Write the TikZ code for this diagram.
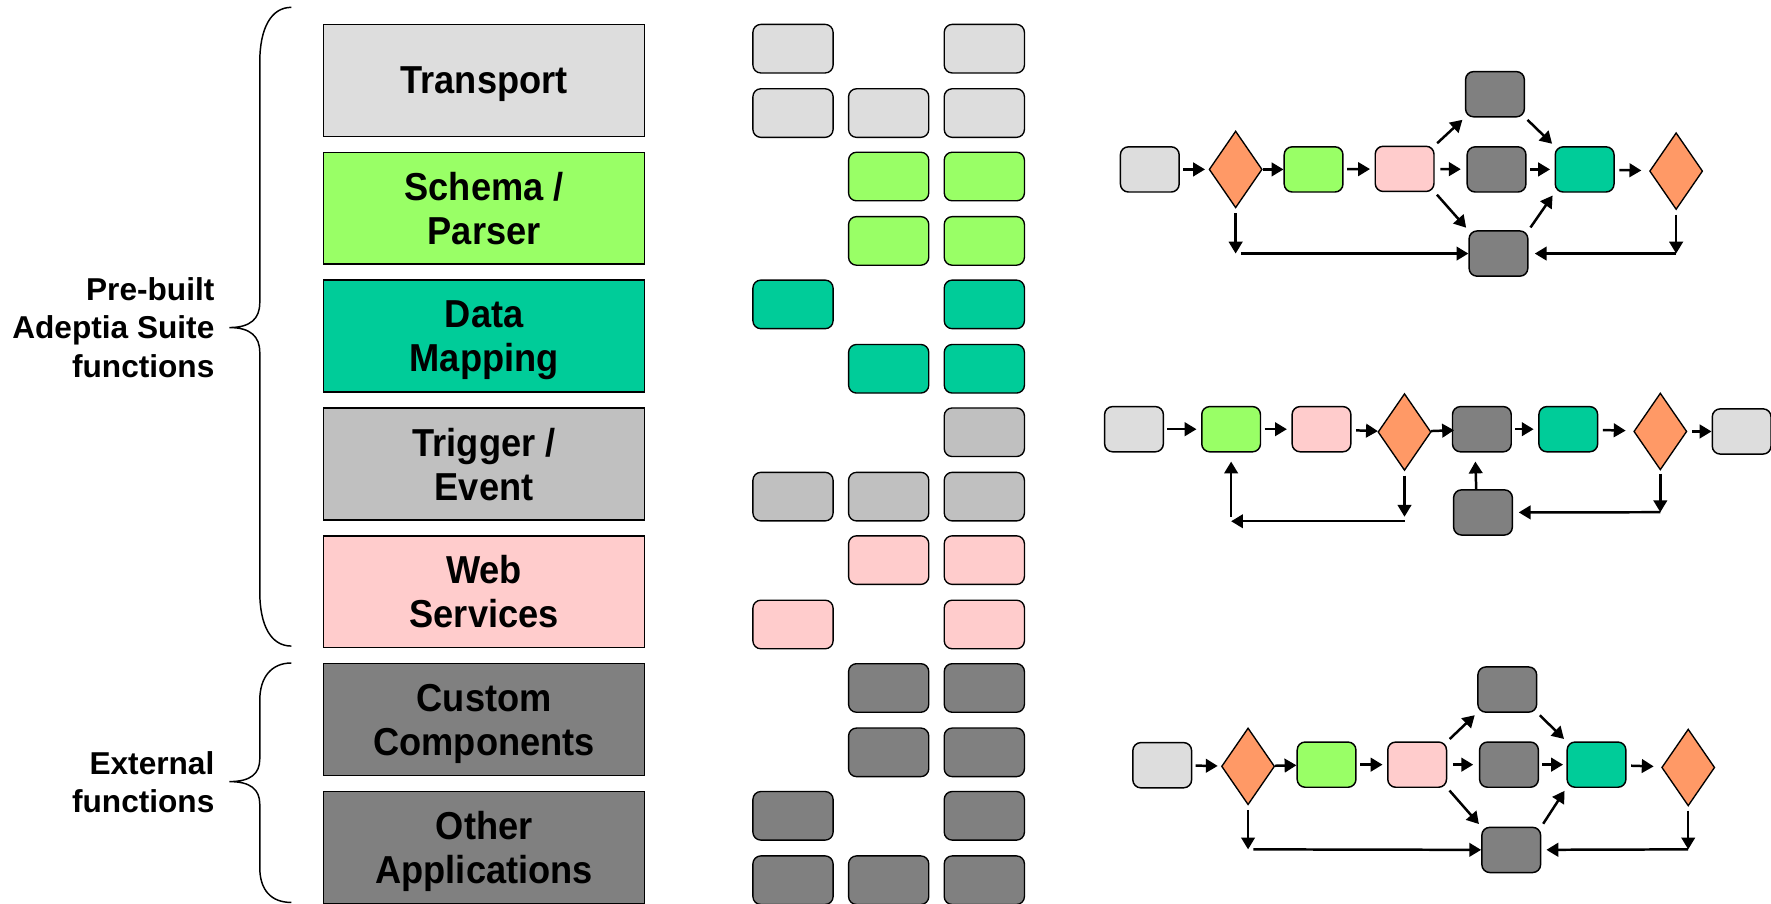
\documentclass[tikz,border=0pt]{standalone}
\usepackage{fontspec}
\setmainfont{Liberation Sans}
\newfontfamily\boxfont{Liberation Sans}[FakeStretch=0.93]
\usetikzlibrary{shapes.geometric,arrows.meta}
\definecolor{cLight}{HTML}{DDDDDD}
\definecolor{cGreen}{HTML}{99FF66}
\definecolor{cTeal}{HTML}{00CC99}
\definecolor{cTrig}{HTML}{C0C0C0}
\definecolor{cPink}{HTML}{FFCCCC}
\definecolor{cDark}{HTML}{808080}
\definecolor{cOr}{HTML}{FF9966}
\begin{document}
\begin{tikzpicture}[x=1pt,y=-1pt,
  big/.style={draw, line width=1.3pt, minimum width=284pt, minimum height=99pt, inner sep=0pt, align=center, anchor=north west, text depth=0pt, font=\boxfont\bfseries\fontsize{34.5}{39}\selectfont},
  cell/.style={draw, line width=1.2pt, rounded corners=7pt, minimum width=71pt, minimum height=43pt, inner sep=0pt, anchor=north west},
  fbox/.style={draw, line width=1.3pt, rounded corners=7pt, minimum width=52pt, minimum height=40pt, inner sep=0pt},
  dia/.style={draw, shape=diamond, line width=1.2pt, fill=cOr, minimum width=47pt, minimum height=68pt, inner sep=0pt},
  arr/.style={line width=2.2pt, -{Triangle[length=10.5pt,width=12pt]}, shorten >=3pt, shorten <=3pt},
  lbl/.style={align=right, anchor=east, inner sep=0pt, font=\bfseries\fontsize{28}{34}\selectfont},
  bracepath/.style={line width=1.3pt}
]
\useasboundingbox (0,0) rectangle (1568,800);

% left labels and braces
\node[lbl] (lpre) at (190,290) {Pre-built\\Adeptia Suite\\functions};
\node[lbl] (lext) at (190,692.5) {External\\functions};
\draw[bracepath] (258,6.5) .. controls (240,6.5) and (230,25) .. (230,55) -- (230,268)
  .. controls (230,282) and (222,290) .. (203,290)
  .. controls (222,290) and (230,298) .. (230,312) -- (230,524)
  .. controls (230,554) and (240,572) .. (258,572);
\draw[bracepath] (258,587) .. controls (240,587) and (230,600) .. (230,620) -- (230,672)
  .. controls (230,685) and (222,692) .. (203,692)
  .. controls (222,692) and (230,699) .. (230,712) -- (230,768)
  .. controls (230,788) and (240,799) .. (258,799);

% big boxes
\node[big, fill=cLight] (bT) at (286,21) {Transport};
\node[big, fill=cGreen] (bS) at (286,134.2) {Schema /\\Parser};
\node[big, fill=cTeal] (bD) at (286,247.4) {Data\\Mapping};
\node[big, fill=cTrig] (bTr) at (286,360.6) {Trigger /\\Event};
\node[big, fill=cPink] (bW) at (286,473.8) {Web\\Services};
\node[big, fill=cDark] (bC) at (286,587) {Custom\\Components};
\node[big, fill=cDark] (bO) at (286,700.2) {Other\\Applications};

% grid of cells
\foreach \yy/\cs/\cc [count=\r] in {21/{1,3}/cLight, 78/{1,2,3}/cLight, 134.2/{2,3}/cGreen, 191.2/{2,3}/cGreen, 247.4/{1,3}/cTeal, 304.4/{2,3}/cTeal, 360.6/{3}/cTrig, 417.6/{1,2,3}/cTrig, 473.8/{2,3}/cPink, 530.8/{1,3}/cPink, 587/{2,3}/cDark, 644/{2,3}/cDark, 700.2/{1,3}/cDark, 757.2/{1,2,3}/cDark}
{
  \foreach \c in \cs {
    \node[cell, fill=\cc] (g\r-\c) at ({666+84.7*(\c-1)}, \yy) {};
  }
}

% ---------- flow 1 ----------
\node[fbox, fill=cLight] (f1a) at (1018,150) {};
\node[dia] (f1d1) at (1094,150) {};
\node[fbox, fill=cGreen] (f1g) at (1163,150) {};
\node[fbox, fill=cPink] (f1p) at (1243.6,149.5) {};
\node[fbox, fill=cDark] (f1t) at (1323.6,83.4) {};
\node[fbox, fill=cDark] (f1m) at (1325,150) {};
\node[fbox, fill=cTeal] (f1c) at (1403,150) {};
\node[dia] (f1d2) at (1484,151.5) {};
\node[fbox, fill=cDark] (f1b) at (1326.7,224.5) {};
\coordinate (f1k1) at (1094,224.5);
\coordinate (f1k2) at (1484,224.5);
\draw[arr] (f1a) -- (f1d1);
\draw[arr, shorten <=0pt, shorten >=0pt] (f1d1) -- (f1g);
\draw[arr, shorten >=4pt] (f1g) -- (f1p);
\draw[arr, shorten <=5pt, shorten >=5pt] (f1p) -- (f1m);
\draw[arr, shorten >=4pt] (f1m) -- (f1c);
\draw[arr, shorten >=7pt, shorten <=4pt] (f1c) -- (f1d2);
\draw[arr] (f1p.north east) -- (f1t.south west);
\draw[arr] (f1p.south east) -- (f1b.north west);
\draw[arr] (f1t.south east) -- (f1c.north west);
\draw[arr] (f1b.north east) -- (f1c.south west);
\draw[arr, shorten <=4pt, shorten >=0pt] (f1d1) -- (f1k1);
\draw[arr, shorten <=4.6pt, shorten >=0pt] (f1k1) -- (f1b);
\draw[arr, shorten <=4pt, shorten >=0pt] (f1d2) -- (f1k2);
\draw[arr, shorten <=0pt, shorten >=5.5pt] (f1k2) -- (f1b);

% ---------- flow 2 ----------
\node[fbox, fill=cLight] (f2a) at (1004,380) {};
\node[fbox, fill=cGreen] (f2g) at (1090,380) {};
\node[fbox, fill=cPink] (f2p) at (1170,380) {};
\node[dia] (f2d1) at (1243.5,382.5) {};
\node[fbox, fill=cDark] (f2m) at (1312,380) {};
\node[fbox, fill=cTeal] (f2c) at (1388.5,380) {};
\node[dia] (f2d2) at (1470,382) {};
\node[fbox, fill=cLight] (f2e) at (1542,382) {};
\node[fbox, fill=cDark] (f2b) at (1313,453.7) {};
\coordinate (f2k1) at (1243.5,461.5);
\coordinate (f2k2) at (1090,461.5);
\coordinate (f2k3) at (1470,453.5);
\draw[arr, shorten >=4pt] (f2a) -- (f2g);
\draw[arr, shorten >=4pt] (f2g) -- (f2p);
\draw[arr, shorten >=0pt, shorten <=4pt] (f2p) -- (f2d1);
\draw[arr, shorten <=0pt, shorten >=-2pt] (f2d1) -- (f2m);
\draw[arr, shorten >=4pt] (f2m) -- (f2c);
\draw[arr, shorten >=7pt, shorten <=4pt] (f2c) -- (f2d2);
\draw[arr, shorten <=4pt, shorten >=0pt] (f2d2) -- (f2e);
\draw[arr, shorten <=4pt, shorten >=4pt] (f2d1) -- (f2k1);
\draw[arr, shorten <=0pt, shorten >=0pt] (f2k1) -- (f2k2);
\draw[arr, shorten <=4pt, shorten >=8pt] (f2k2) -- (f2g);
\draw[arr, shorten <=0pt, shorten >=8pt] ([xshift=-6pt]f2b.north) -- ([xshift=-6pt]f2m.south);
\draw[arr, shorten <=3pt, shorten >=0pt] (f2d2) -- (f2k3);
\draw[arr, shorten <=0pt, shorten >=5pt] (f2k3) -- (f2b);

% ---------- flow 3 ----------
\node[fbox, fill=cLight] (f3a) at (1029,677.5) {};
\node[dia] (f3d1) at (1105,678.5) {};
\node[fbox, fill=cGreen] (f3g) at (1174.5,677) {};
\node[fbox, fill=cPink] (f3p) at (1254.7,677) {};
\node[fbox, fill=cDark] (f3t) at (1334.5,610.5) {};
\node[fbox, fill=cDark] (f3m) at (1336,677) {};
\node[fbox, fill=cTeal] (f3c) at (1413.5,677) {};
\node[dia] (f3d2) at (1494.7,679.5) {};
\node[fbox, fill=cDark] (f3b) at (1338,752.5) {};
\coordinate (f3k1) at (1105,752);
\coordinate (f3k2) at (1494.7,752);
\draw[arr] (f3a) -- (f3d1);
\draw[arr, shorten <=0pt, shorten >=0pt] (f3d1) -- (f3g);
\draw[arr, shorten >=4pt] (f3g) -- (f3p);
\draw[arr, shorten <=5pt, shorten >=5pt] (f3p) -- (f3m);
\draw[arr, shorten >=3pt] (f3m) -- (f3c);
\draw[arr, shorten >=7pt, shorten <=4pt] (f3c) -- (f3d2);
\draw[arr] (f3p.north east) -- (f3t.south west);
\draw[arr] (f3p.south east) -- (f3b.north west);
\draw[arr] (f3t.south east) -- (f3c.north west);
\draw[arr] (f3b.north east) -- (f3c.south west);
\draw[arr, shorten <=4pt, shorten >=0pt] (f3d1) -- (f3k1);
\draw[arr, shorten <=4.6pt, shorten >=0pt] (f3k1) -- (f3b);
\draw[arr, shorten <=3.5pt, shorten >=0pt] (f3d2) -- (f3k2);
\draw[arr, shorten <=0pt, shorten >=4.5pt] (f3k2) -- (f3b);
\end{tikzpicture}
\end{document}
